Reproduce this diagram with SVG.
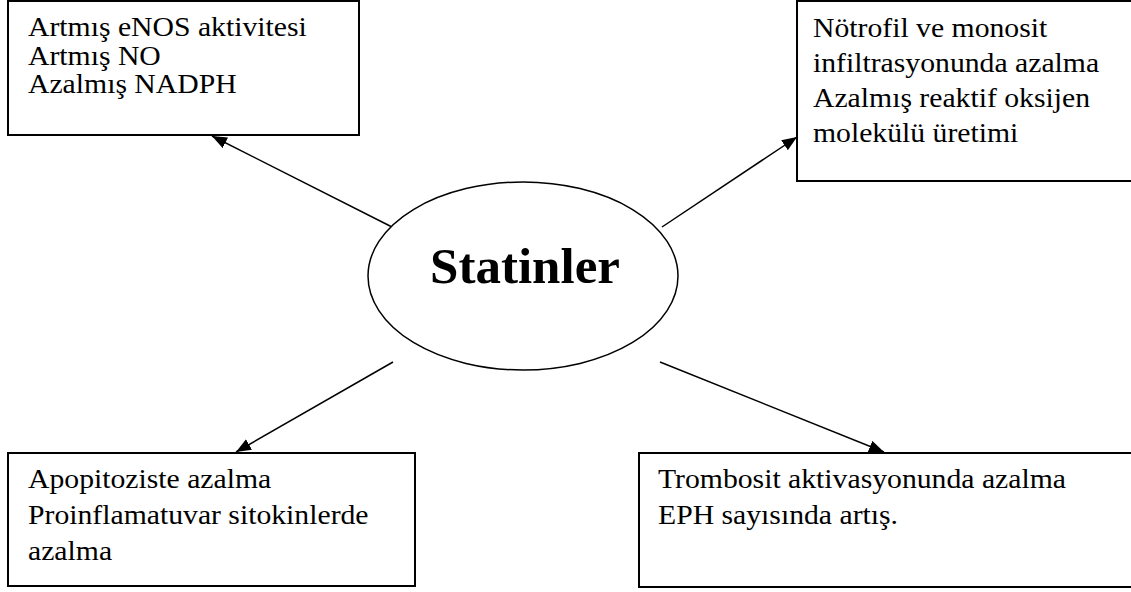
<svg xmlns="http://www.w3.org/2000/svg" width="1131" height="592" viewBox="0 0 1131 592">
<style>
.box{fill:#fff;stroke:#000;stroke-width:2}
.t{font-family:"Liberation Serif","Times New Roman",serif;font-size:27px;fill:#000}
.title{font-family:"Liberation Serif","Times New Roman",serif;font-size:51px;font-weight:bold;fill:#000}
.conn{stroke:#000;stroke-width:1.5;fill:none}
</style>
<defs>
<marker id="ah" markerUnits="userSpaceOnUse" markerWidth="16" markerHeight="13" refX="15" refY="6" orient="auto">
<path d="M0,0 L15,6 L0,12 z" fill="#000"/>
</marker>
</defs>
<rect width="1131" height="592" fill="#fff"/>
<g id="connectors">
<line class="conn" x1="392" y1="227" x2="212" y2="136" marker-end="url(#ah)"/>
<line class="conn" x1="662" y1="227" x2="797" y2="137" marker-end="url(#ah)"/>
<line class="conn" x1="393" y1="362" x2="236" y2="452" marker-end="url(#ah)"/>
<line class="conn" x1="660" y1="362" x2="884" y2="452" marker-end="url(#ah)"/>
</g>
<g id="center">
<ellipse cx="523" cy="276" rx="155" ry="94" fill="#fff" stroke="#000" stroke-width="1.5"/>
<text class="title" x="525" y="283" text-anchor="middle">Statinler</text>
</g>
<g id="box1">
<rect class="box" x="8" y="1" width="351" height="134"/>
<text class="t" transform="translate(28 35.7) scale(1.1 1)">Artmış eNOS aktivitesi</text>
<text class="t" transform="translate(28 64.5) scale(1.1 1)">Artmış NO</text>
<text class="t" transform="translate(28 93.3) scale(1.1 1)">Azalmış NADPH</text>
</g>
<g id="box2">
<rect class="box" x="797" y="1" width="345" height="180"/>
<text class="t" transform="translate(813 36.7) scale(1.1 1)">Nötrofil ve monosit</text>
<text class="t" transform="translate(813 71.7) scale(1.1 1)">infiltrasyonunda azalma</text>
<text class="t" transform="translate(813 106.7) scale(1.1 1)">Azalmış reaktif oksijen</text>
<text class="t" transform="translate(813 141.7) scale(1.1 1)">molekülü üretimi</text>
</g>
<g id="box3">
<rect class="box" x="8" y="453" width="407" height="133"/>
<text class="t" transform="translate(28 488.3) scale(1.1 1)">Apopitoziste azalma</text>
<text class="t" transform="translate(28 524) scale(1.1 1)">Proinflamatuvar sitokinlerde</text>
<text class="t" transform="translate(28 559.5) scale(1.1 1)">azalma</text>
</g>
<g id="box4">
<rect class="box" x="639" y="453" width="500" height="134"/>
<text class="t" transform="translate(658 488.3) scale(1.1 1)">Trombosit aktivasyonunda azalma</text>
<text class="t" transform="translate(658 523.5) scale(1.1 1)">EPH sayısında artış.</text>
</g>
</svg>
